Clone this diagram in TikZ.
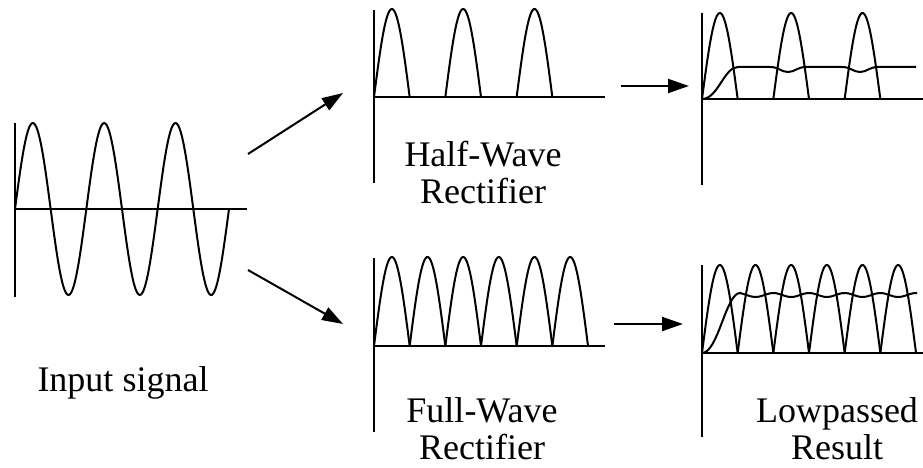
\documentclass[tikz,border=0pt]{standalone}
\usepackage{fontspec}
\setmainfont{Liberation Serif}
\usetikzlibrary{arrows.meta,positioning}
\tikzset{
  axis/.style={line width=2.2pt},
  wave/.style={line width=2pt},
  flow/.style={line width=2pt, -{Triangle[length=21pt,width=14pt]}},
  caption/.style={font=\fontsize{36}{37}\selectfont, align=center, inner sep=0pt}
}

\begin{document}
\begin{tikzpicture}[x=1pt,y=-1pt]
    \useasboundingbox (0,0) rectangle (923,468);
    % Input signal
    \draw[axis] (15,123) -- (15,297);
    \draw[axis] (15,209) -- (247,209);
    \draw[wave,smooth,domain=0:214,samples=150] plot ({15+\x},{209-86*sin(\x/71.33*360)});
    \node[caption,anchor=base] (insig) at (123,391) {Input signal};
    % Half-wave rectifier
    \draw[axis] (374,10) -- (374,183);
    \draw[axis] (374,97) -- (605,97);
    \foreach \k in {0,1,2} {
        \draw[wave,smooth,domain=0:35.67,samples=40] plot ({374+71.33*\k+\x},{97-88*sin(\x/35.67*180)});
    }
    \node[caption] (halfrect) at (483,173) {Half-Wave\\Rectifier};
    % Full-wave rectifier
    \draw[axis] (374,258) -- (374,432);
    \draw[axis] (374,346) -- (605,346);
    \foreach \k in {0,...,5} {
        \draw[wave,smooth,domain=0:35.67,samples=40] plot ({374+35.67*\k+\x},{346-89*sin(\x/35.67*180)});
    }
    \node[caption] (fullrect) at (482,429) {Full-Wave\\Rectifier};
    % Lowpassed half-wave
    \draw[axis] (702,13) -- (702,185);
    \draw[axis] (702,99) -- (923,99);
    \foreach \k in {0,1,2} {
        \draw[wave,smooth,domain=0:35.67,samples=40] plot ({702+71.33*\k+\x},{99-86*sin(\x/35.67*180)});
    }
    \draw[wave] (702,99) .. controls (718,99) and (724,67) .. (738,67) -- (770,67)
        .. controls (779,67) and (781,72) .. (788,72) .. controls (795,72) and (797,67) .. (806,67) -- (842,67)
        .. controls (851,67) and (853,72) .. (860,72) .. controls (867,72) and (869,67) .. (878,67) -- (916,67);
    % Lowpassed full-wave
    \draw[axis] (702,265) -- (702,437);
    \draw[axis] (702,353) -- (923,353);
    \foreach \k in {0,...,5} {
        \draw[wave,smooth,domain=0:35.67,samples=40] plot ({702+35.67*\k+\x},{353-88*sin(\x/35.67*180)});
    }
    \draw[wave] (702,353) .. controls (718,353) and (726,293) .. (740,293)
        -- plot[smooth,domain=740:917,samples=60] (\x,{295-2*cos((\x-702)/35.67*360)});
    \node[caption] (lowres) at (837,429) {Lowpassed\\Result};
    % Arrows
    \coordinate (insig-top) at (248,154);
    \coordinate (halfrect-in) at (343,93);
    \coordinate (insig-bot) at (248,270);
    \coordinate (fullrect-in) at (343,324);
    \coordinate (halfrect-out) at (621,86);
    \coordinate (lowhalf-in) at (689,86);
    \coordinate (fullrect-out) at (614,324);
    \coordinate (lowfull-in) at (683,324);
    \draw[flow] (insig-top) -- (halfrect-in);
    \draw[flow] (insig-bot) -- (fullrect-in);
    \draw[flow] (halfrect-out) -- (lowhalf-in);
    \draw[flow] (fullrect-out) -- (lowfull-in);
\end{tikzpicture}
\end{document}
